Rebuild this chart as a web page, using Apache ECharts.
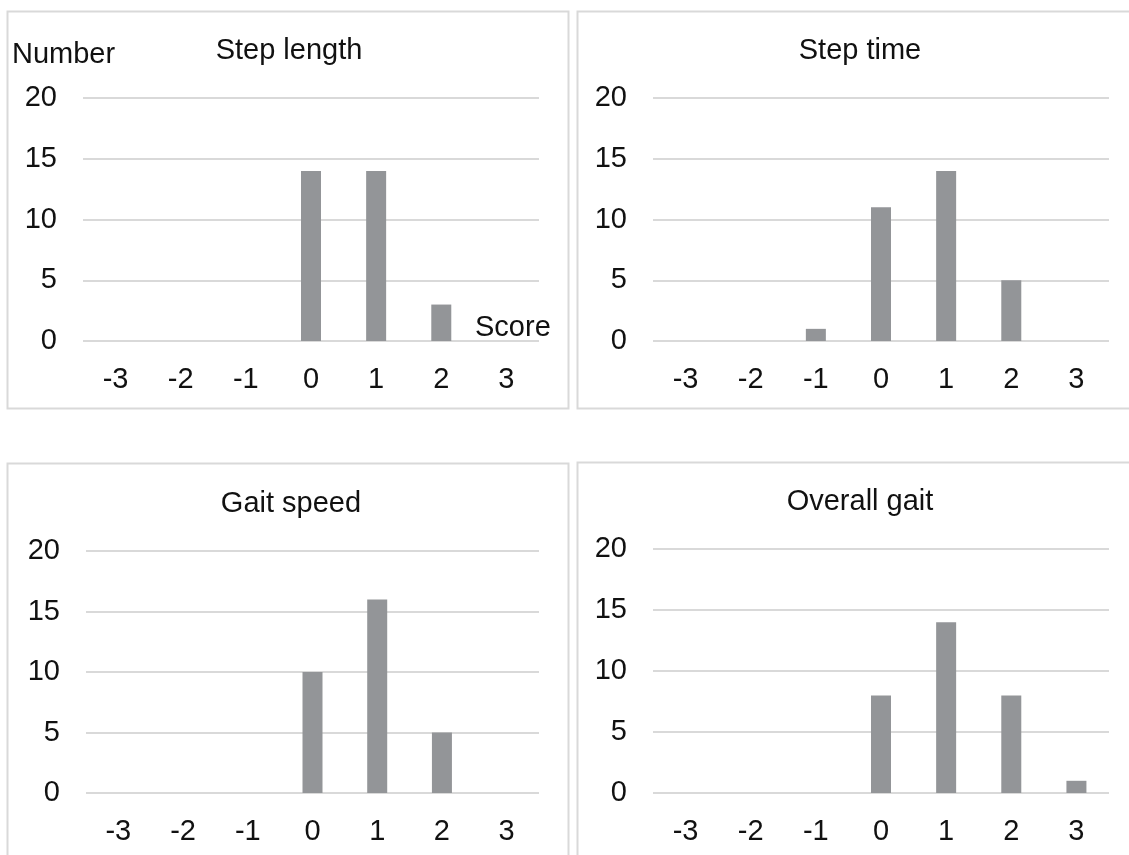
<!DOCTYPE html>
<html>
<head>
<meta charset="utf-8">
<script src="https://cdn.jsdelivr.net/npm/echarts@6/dist/echarts.min.js"></script>
<style>
html,body{margin:0;padding:0;background:#fff;}
#c{width:1129px;height:855px;}
</style>
</head>
<body>
<div id="c"></div>
<script>
const scores = ['-3','-2','-1','0','1','2','3'];
const titles = ['Step length','Step time','Gait speed','Overall gait'];
const stepLength = [0,0,0,14,14,3,0];
const stepTime = [0,0,1,11,14,5,0];
const gaitSpeed = [0,0,0,10,16,5,0];
const overallGait = [0,0,0,8,14,8,1];
const yTicks = [0,5,10,15,20];

const seriesData = [stepLength, stepTime, gaitSpeed, overallGait];
const FONT = '"Liberation Sans", Arial, Helvetica, sans-serif';
const FS = 29;
const grids = [
  {left:83, top:98, width:456, height:243},
  {left:653, top:98, width:456, height:243},
  {left:86, top:551, width:453, height:242},
  {left:653, top:549, width:456, height:244}
];
const titlePos = [[284,49],[855,49],[286,502],[855,500]];
const panels = [[7.5,11.5,561,397],[577.5,11.5,560,397],[7.5,463.5,561,400],[577.5,462.5,560,400]];

const option = {
  animation:false,
  backgroundColor:'#fff',
  textStyle:{fontFamily:FONT},
  title: titles.map((t,i)=>({
    text:t, left:titlePos[i][0], top:titlePos[i][1]-18, textAlign:'center',
    textStyle:{fontSize:FS, fontWeight:'normal', color:'#111', fontFamily:FONT}
  })),
  grid: grids,
  xAxis: grids.map((g,i)=>({
    type:'category', gridIndex:i, data:scores,
    axisLine:{show:false}, axisTick:{show:false},
    axisLabel:{fontSize:FS, color:'#111', margin:24, fontFamily:FONT}
  })),
  yAxis: grids.map((g,i)=>({
    type:'value', gridIndex:i, min:yTicks[0], max:yTicks[yTicks.length-1], interval:yTicks[1]-yTicks[0],
    axisLine:{show:false}, axisTick:{show:false},
    axisLabel:{fontSize:FS, color:'#111', margin:26, fontFamily:FONT},
    splitLine:{lineStyle:{color:'#d9d9d9', width:2}}
  })),
  series: seriesData.map((d,i)=>({
    type:'bar', xAxisIndex:i, yAxisIndex:i, data:d, barWidth:20,
    itemStyle:{color:'#939598'}
  })),
  graphic: [
    ...panels.map(p=>({type:'rect', silent:true, z:-1,
      shape:{x:p[0], y:p[1], width:p[2], height:p[3]},
      style:{fill:null, stroke:'#d9d9d9', lineWidth:2}})),
    {type:'text', x:12, y:55, style:{text:'Number', font:FS+'px '+FONT, fill:'#111', textVerticalAlign:'middle', verticalAlign:'middle'}},
    {type:'text', x:475, y:328, style:{text:'Score', font:FS+'px '+FONT, fill:'#111', textVerticalAlign:'middle', verticalAlign:'middle'}}
  ]
};
const chart = echarts.init(document.getElementById('c'));
chart.setOption(option);
</script>
</body>
</html>
